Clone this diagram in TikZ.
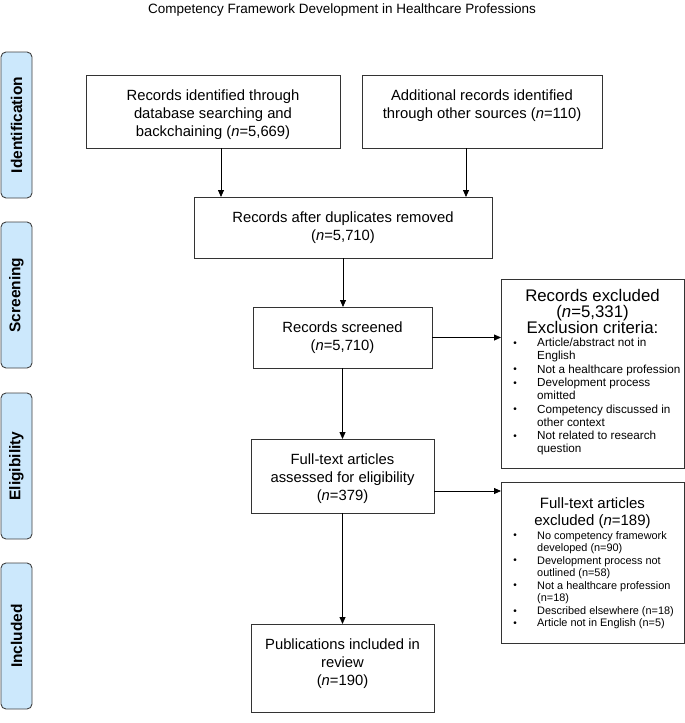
\documentclass[tikz,border=0pt]{standalone}
\usepackage{fontspec}
\setmainfont{Liberation Sans}
\usetikzlibrary{arrows.meta}
\definecolor{sideblue}{RGB}{204,232,252}
\newcommand\mybul{\makebox[4pt][c]{\raisebox{0.4pt}{\fontsize{10}{10}\selectfont\textbullet}}}
\begin{document}
\begin{tikzpicture}[x=1pt,y=-1pt,
  box/.style={draw=black!80, line width=0.9pt, inner sep=0pt, outer sep=0pt, anchor=north west},
  mtxt/.style={inner sep=0pt, anchor=north, align=center, font=\fontsize{14.8}{18}\selectfont},
  side/.style={draw=black!75, fill=sideblue, rounded corners=5pt, line width=0.9pt, inner sep=0pt, outer sep=0pt, minimum width=31pt, minimum height=146pt, anchor=north west},
  stxt/.style={rotate=90, font=\fontsize{15.5}{18}\selectfont\bfseries, inner sep=0pt},
  arr/.style={-{Triangle[length=7pt,width=6pt]}, line width=0.8pt, black},
  lst/.style={inner sep=0pt, anchor=north west},
]
\useasboundingbox (0,0) rectangle (685,723);

\node[font=\fontsize{13.5}{16}\selectfont, inner sep=0pt] (title) at (342,10) {Competency Framework Development in Healthcare Professions};

% side labels
\node[side] (sid) at (1,52) {};
\node[stxt] (sidt) at (sid.center) {Identification};
\node[side] (sscr) at (1,222) {};
\node[stxt] (sscrt) at (sscr.center) {Screening};
\node[side] (seli) at (1,393) {};
\node[stxt] (selit) at (seli.center) {Eligibility};
\node[side] (sinc) at (1,563) {};
\node[stxt] (sinct) at (sinc.center) {Included};

% main boxes
\node[box, minimum width=254pt, minimum height=73pt] (b1) at (86,75) {};
\node[mtxt] (b1t) at (213,90) {Records identified through\\database searching and\\backchaining (\textit{n}=5,669)};
\node[box, minimum width=240pt, minimum height=73pt] (b2) at (362,75) {};
\node[mtxt] (b2t) at (482,90) {Additional records identified\\through other sources (\textit{n}=110)};
\node[box, minimum width=298pt, minimum height=61pt] (b3) at (194,197) {};
\node[mtxt] (b3t) at (343,212) {Records after duplicates removed\\(\textit{n}=5,710)};
\node[box, minimum width=179pt, minimum height=61pt] (b4) at (253,307) {};
\node[mtxt] (b4t) at (342.5,322) {Records screened\\(\textit{n}=5,710)};
\node[box, minimum width=183pt, minimum height=74pt] (b5) at (251,439) {};
\node[mtxt] (b5t) at (342.5,454) {Full-text articles\\assessed for eligibility\\(\textit{n}=379)};
\node[box, minimum width=183pt, minimum height=88pt] (b6) at (251,624) {};
\node[mtxt] (b6t) at (342.5,639) {Publications included in\\review\\(\textit{n}=190)};

% exclusion boxes
\node[box, minimum width=183pt, minimum height=189pt] (b7) at (501,279) {};
\node[inner sep=0pt, anchor=north, align=center, font=\fontsize{16.8}{16}\selectfont] (b7h) at (592.5,289) {Records excluded\\(\textit{n}=5,331)\\Exclusion criteria:};
\node[lst, font=\fontsize{11.7}{13.3}\selectfont] (b7l) at (513,337) {\begin{tabular}{@{}c@{\hspace{20pt}}l@{}}
\mybul & Article/abstract not in\\ & English\\
\mybul & Not a healthcare profession\\
\mybul & Development process\\ & omitted\\
\mybul & Competency discussed in\\ & other context\\
\mybul & Not related to research\\ & question
\end{tabular}};

\node[box, minimum width=183pt, minimum height=161pt] (b8) at (501,482) {};
\node[inner sep=0pt, anchor=north, align=center, font=\fontsize{15}{17}\selectfont] (b8h) at (592.5,497.5) {Full-text articles\\excluded (\textit{n}=189)};
\node[lst, font=\fontsize{10.9}{12.57}\selectfont] (b8l) at (513,530) {\begin{tabular}{@{}c@{\hspace{20pt}}l@{}}
\mybul & No competency framework\\ & developed (n=90)\\
\mybul & Development process not\\ & outlined (n=58)\\
\mybul & Not a healthcare profession\\ & (n=18)\\
\mybul & Described elsewhere (n=18)\\
\mybul & Article not in English (n=5)
\end{tabular}};

% connectors
\draw[arr] ([xshift=8pt]b1.south) -- ([xshift=8pt]b1.south |- b3.north);
\draw[arr] ([xshift=-16pt]b2.south) -- ([xshift=-16pt]b2.south |- b3.north);
\draw[arr] (b3.south) -- (b3.south |- b4.north);
\draw[arr] (b4.east) -- (b4.east -| b7.west);
\draw[arr] (b4.south) -- (b5.north);
\draw[arr] ([yshift=-15pt]b5.east) -- ([yshift=-15pt]b5.east -| b8.west);
\draw[arr] (b5.south) -- (b6.north);
\end{tikzpicture}
\end{document}
